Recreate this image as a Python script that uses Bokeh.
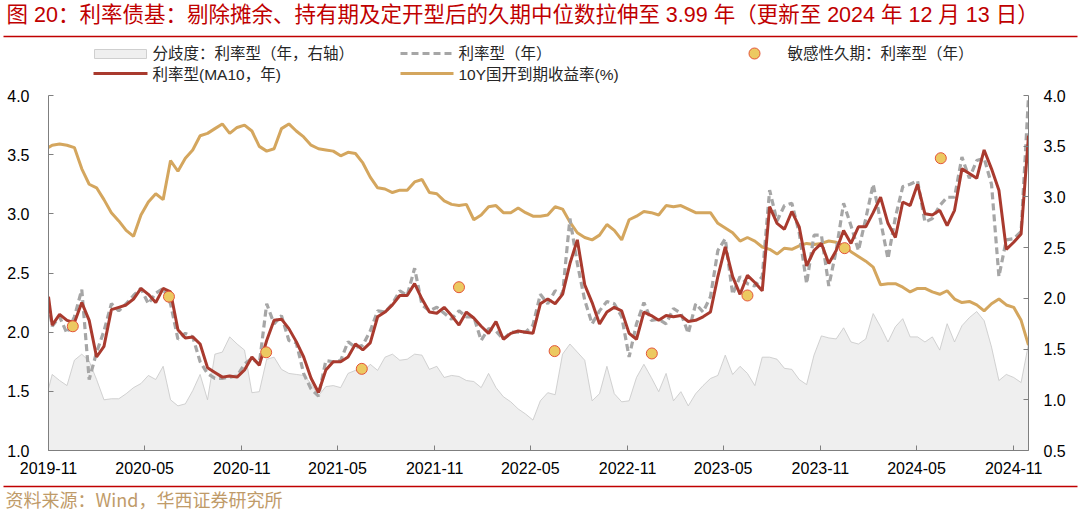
import pandas as pd
from bokeh.plotting import figure
from bokeh.models import (Range1d, LinearAxis, FixedTicker, DatetimeTickFormatter,
                          NumeralTickFormatter, ColumnDataSource)
from bokeh.layouts import column, row
from bokeh.embed import file_html
from bokeh.resources import INLINE
from bokeh.core.properties import value

# ---------------- data ----------------
dates = [pd.Timestamp("2019-11-15")] + list(pd.date_range("2019-11-22", "2024-12-13", freq="14D"))

cdb_10y = [3.56,3.58,3.59,3.58,3.56,3.38,3.25,3.22,3.12,3.01,
           2.94,2.86,2.81,2.99,3.10,3.17,3.12,3.45,3.36,3.47,
           3.54,3.66,3.68,3.72,3.76,3.68,3.73,3.75,3.70,3.57,
           3.53,3.55,3.72,3.76,3.70,3.65,3.58,3.55,3.54,3.53,
           3.49,3.52,3.51,3.43,3.31,3.22,3.21,3.18,3.20,3.20,
           3.27,3.29,3.18,3.17,3.11,3.08,3.07,3.08,2.95,2.99,
           3.06,3.07,3.01,3.01,3.05,3.01,2.98,2.98,2.99,3.06,
           3.04,2.93,2.84,2.80,2.78,2.82,2.91,2.86,2.78,2.95,
           2.98,3.02,3.01,2.99,3.07,3.06,3.07,3.04,3.01,3.01,
           3.01,2.92,2.88,2.84,2.77,2.80,2.77,2.72,2.70,2.66,
           2.71,2.70,2.73,2.75,2.74,2.75,2.77,2.76,2.73,2.68,
           2.64,2.60,2.55,2.40,2.41,2.41,2.38,2.34,2.37,2.37,
           2.34,2.32,2.35,2.28,2.25,2.26,2.23,2.18,2.24,2.28,
           2.23,2.21,2.10,1.89]

duration_ma10 = [2.30,2.06,2.15,2.10,2.08,2.25,2.10,1.79,1.88,2.19,
                 2.21,2.23,2.28,2.37,2.32,2.25,2.37,2.34,2.02,1.95,
                 1.96,1.90,1.70,1.66,1.62,1.63,1.62,1.68,1.79,1.72,
                 1.93,2.10,2.11,2.03,1.92,1.79,1.61,1.49,1.68,1.75,
                 1.75,1.79,1.90,1.85,1.91,2.13,2.17,2.23,2.31,2.31,
                 2.41,2.28,2.17,2.16,2.21,2.14,2.06,2.17,2.12,2.05,
                 1.99,2.09,1.94,1.99,2.01,2.00,1.99,2.24,2.28,2.24,
                 2.32,2.58,2.78,2.40,2.25,2.07,2.17,2.21,2.18,1.99,
                 1.94,2.17,2.14,2.10,2.14,2.13,2.14,2.09,2.10,2.13,
                 2.17,2.47,2.72,2.47,2.32,2.48,2.42,2.35,3.06,2.92,
                 2.87,3.02,2.89,2.56,2.69,2.75,2.58,2.69,2.86,2.75,
                 2.89,2.89,3.01,3.14,2.92,2.80,3.10,3.07,3.25,3.00,
                 2.99,3.03,2.90,3.03,3.38,3.34,3.30,3.54,3.38,3.20,
                 2.70,2.76,2.83,3.66]

duration_raw = [2.24,2.05,2.13,1.99,2.13,2.36,1.60,1.83,2.01,2.24,
                2.18,2.24,2.31,2.37,2.24,2.33,2.37,2.24,1.94,1.99,
                1.96,1.75,1.65,1.61,1.61,1.62,1.63,1.73,1.78,1.73,
                2.24,2.07,2.14,1.93,1.91,1.65,1.52,1.46,1.76,1.75,
                1.76,1.92,1.87,1.89,2.01,2.18,2.17,2.24,2.35,2.31,
                2.54,2.23,2.18,2.21,2.16,2.11,2.18,2.13,2.13,1.93,
                2.03,2.01,1.94,2.00,2.00,2.00,2.06,2.32,2.24,2.35,
                2.32,2.96,2.58,2.27,2.07,2.18,2.26,2.24,2.13,1.79,
                2.07,2.25,2.10,2.11,2.07,2.20,2.16,1.99,2.24,2.17,
                2.30,2.69,2.79,2.32,2.47,2.41,2.39,2.47,3.20,2.94,
                3.07,3.09,2.84,2.41,2.82,2.82,2.39,2.69,3.09,2.90,
                2.69,2.96,3.25,2.94,2.62,2.97,3.23,3.25,3.28,2.93,
                2.96,3.07,3.14,3.14,3.48,3.30,3.45,3.47,3.25,2.47,
                2.78,2.79,2.85,3.99]

dispersion = [1.11,1.25,1.19,1.14,1.39,1.45,1.38,1.20,1.00,1.01,
              1.01,1.06,1.12,1.16,1.24,1.20,1.33,1.00,0.94,0.96,
              1.09,1.25,1.00,1.45,1.47,1.62,1.55,1.49,1.07,1.08,
              1.40,1.42,1.30,1.26,1.25,1.24,1.16,1.04,1.13,1.14,
              1.12,1.26,1.29,1.27,1.35,1.29,1.42,1.45,1.39,1.40,
              1.45,1.44,1.30,1.33,1.22,1.24,1.23,1.19,1.18,1.12,
              1.26,1.12,1.03,0.98,0.91,0.86,0.80,0.99,1.07,1.05,
              1.45,1.55,1.47,1.39,0.99,1.06,1.33,1.06,0.98,0.99,
              1.22,1.35,1.22,1.08,1.26,0.99,1.08,0.94,1.06,1.14,
              1.21,1.24,1.44,1.25,1.33,1.26,1.14,1.42,1.42,1.40,
              1.31,1.30,1.20,1.15,1.44,1.63,1.61,1.60,1.71,1.57,
              1.55,1.60,1.85,1.72,1.57,1.72,1.80,1.62,1.62,1.57,
              1.62,1.49,1.75,1.57,1.73,1.81,1.87,1.78,1.52,1.19,
              1.25,1.22,1.17,1.55]

report_dates = ["2019-12-31", "2020-06-30", "2020-12-31", "2021-06-30", "2021-12-31",
                "2022-06-30", "2022-12-31", "2023-06-30", "2023-12-31", "2024-06-30"]
sens_duration = [2.05, 2.30, 1.83, 1.69, 2.38, 1.84, 1.82, 2.31, 2.71, 3.47]

tick_dates = ["2019-11-15", "2020-05-15", "2020-11-15", "2021-05-15", "2021-11-15", "2022-05-15",
              "2022-11-15", "2023-05-15", "2023-11-15", "2024-05-15", "2024-11-15"]

title_text = "图 20：利率债基：剔除摊余、持有期及定开型后的久期中位数拉伸至 3.99 年（更新至 2024 年 12 月 13 日）"
legend_labels = ["分歧度：利率型（年，右轴）", "利率型（年）", "敏感性久期：利率型（年）",
                 "利率型(MA10，年)", "10Y国开到期收益率(%)"]
source_text = "资料来源：Wind，华西证券研究所"

# ---------------- styles ----------------
C_AREA, C_AREA_LINE = "#EFEFEF", "#C6C6C6"
C_RAW, C_MA, C_YLD = "#A6A6A6", "#A93A2E", "#D4A65E"
C_DOT_FILL, C_DOT_LINE = "#ECC961", "#E4553A"
C_RED = "#C00000"
FONT_MIX = value("Liberation Sans, Noto Sans CJK SC")
FONT_CJK = value("Noto Sans CJK SC")
W = 1080


def blank(height, y_top, y_bottom):
    fig = figure(width=W, height=height, x_range=Range1d(0, W),
                 y_range=Range1d(y_bottom, y_top), x_axis_type=None, y_axis_type=None,
                 output_backend="svg", toolbar_location=None, outline_line_color=None,
                 min_border=0)
    fig.grid.visible = False
    return fig


# ---------------- header (page y 0..88) ----------------
h = blank(88, 0, 88)
h.text(x=[6], y=[14], text=[title_text], text_font=FONT_MIX, text_font_size="21.5px",
       text_color=C_RED, text_baseline="middle", text_align="left")
h.segment(x0=[3], y0=[36], x1=[1077], y1=[36], line_color=C_RED, line_width=1.6)
h.quad(left=[94], right=[146], top=[49], bottom=[58], fill_color=C_AREA, line_color="#CFCFCF")
h.line(x=[400, 453], y=[53, 53], line_color=C_RAW, line_width=3.2, line_dash="7 4")
h.scatter(x=[754], y=[53], size=11, fill_color=C_DOT_FILL, line_color=C_DOT_LINE, line_width=1)
h.line(x=[93, 147], y=[73, 73], line_color=C_MA, line_width=3)
h.line(x=[400, 453], y=[73, 73], line_color=C_YLD, line_width=3)
h.text(x=[152, 458, 787, 152, 458], y=[53, 53, 53, 74, 74], text=legend_labels,
       text_font=FONT_MIX, text_font_size="15.5px", text_color="#262626",
       text_baseline="middle", text_align="left")

# ---------------- main chart (page y 88..482) ----------------
src = ColumnDataSource(dict(date=dates, disp=dispersion, raw=duration_raw,
                            ma=duration_ma10, yld=cdb_10y))

p = figure(width=W, height=394, x_axis_type="datetime", output_backend="svg",
           toolbar_location=None,
           x_range=Range1d(pd.Timestamp("2019-11-15"), pd.Timestamp("2024-12-13")),
           y_range=Range1d(1.0, 4.0),
           min_border_left=48, min_border_right=52, min_border_top=7, min_border_bottom=32,
           outline_line_color=None)
p.extra_y_ranges = {"right": Range1d(0.5, 4.0)}
p.grid.visible = False

p.varea(x="date", y1=0.5, y2="disp", source=src, fill_color=C_AREA, y_range_name="right")
p.line("date", "disp", source=src, line_color=C_AREA_LINE, line_width=0.8, y_range_name="right")
p.line("date", "yld", source=src, line_color=C_YLD, line_width=3)
p.line("date", "raw", source=src, line_color=C_RAW, line_width=3.2, line_dash="7 4")
p.line("date", "ma", source=src, line_color=C_MA, line_width=3)
p.scatter(x=pd.to_datetime(report_dates), y=sens_duration, size=11,
          fill_color=C_DOT_FILL, line_color=C_DOT_LINE, line_width=1)

right_axis = LinearAxis(y_range_name="right")
p.add_layout(right_axis, "right")

tick_ms = [pd.Timestamp(t).timestamp() * 1000 for t in tick_dates]
p.xaxis.ticker = FixedTicker(ticks=tick_ms)
p.xaxis.formatter = DatetimeTickFormatter(days="%Y-%m", months="%Y-%m", years="%Y-%m",
                                          hours="%Y-%m", minutes="%Y-%m")
p.yaxis.ticker = FixedTicker(ticks=[1.0, 1.5, 2.0, 2.5, 3.0, 3.5, 4.0])
right_axis.ticker = FixedTicker(ticks=[0.5, 1.0, 1.5, 2.0, 2.5, 3.0, 3.5, 4.0])
p.yaxis.formatter = NumeralTickFormatter(format="0.0")

for ax in p.axis:
    ax.axis_line_color = "#7F7F7F"
    ax.major_tick_line_color = "#7F7F7F"
    ax.major_tick_in = 5
    ax.major_tick_out = 0
    ax.minor_tick_line_color = None
    ax.major_label_text_font = "Liberation Sans"
    ax.major_label_text_font_size = "16px"
    ax.major_label_text_color = "#000000"
p.xaxis.major_label_standoff = 11
p.yaxis[0].major_label_standoff = 19
right_axis.major_label_standoff = 15

# ---------------- footer (page y 482..511) ----------------
f = blank(29, 482, 511)
f.segment(x0=[3], y0=[486], x1=[1077], y1=[486], line_color=C_RED, line_width=1.6)
f.text(x=[5], y=[498], text=[source_text], text_font=FONT_CJK, text_font_size="18px",
       text_color="#BF9B69", text_baseline="middle", text_align="left")

layout = column(row(h), p, row(f), spacing=0)
open("out.html", "w").write(file_html(layout, INLINE))
